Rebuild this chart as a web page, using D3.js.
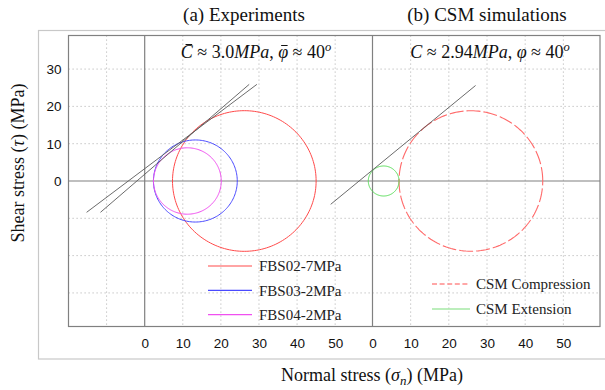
<!DOCTYPE html>
<html>
<head>
<meta charset="utf-8">
<script src="https://cdn.jsdelivr.net/npm/d3@7"></script>
<style>
  html, body { margin: 0; padding: 0; background: #fff; }
  svg { display: block; }
  .serif { font-family: "Liberation Serif", "DejaVu Serif", serif; }
  .tick text { font-family: "Liberation Sans", Arial, sans-serif; font-size: 13.5px; fill: #111; }
</style>
</head>
<body>
<svg id="chart" width="605" height="390"></svg>
<script>
// ---- Mohr circle data (MPa) ----
// Laboratory tests: minor / major principal stresses
const expNames   = ["FBS02-7MPa", "FBS03-2MPa", "FBS04-2MPa"];
const expSigma3  = [7.3, 2.3, 2.3];
const expSigma1  = [45.0, 24.3, 20.1];

// Laboratory failure envelopes: cohesion (MPa), friction angle (deg), drawn tau span
const envCohesion = [3.3, 1.8];
const envFriction = [37.5, 41.3];
const envTauSpan  = [-8.4, 25.9];

// CSM simulations
const csmNames  = ["CSM Compression", "CSM Extension"];
const csmSigma3 = [6.95, -1.1];
const csmSigma1 = [44.6, 6.95];
const csmCohesion = 2.94;
const csmFriction = 40;
const csmTauSpan  = [-6.25, 25.6];

// Axis ticks
const xTickValues = [0, 10, 20, 30, 40, 50];
const yTickValues = [0, 10, 20, 30];
const xGridLeft  = [-10, 10, 20, 30, 40, 50];
const xGridRight = [10, 20, 30, 40, 50];
const yGrid      = [-30, -20, -10, 10, 20, 30];

// ---- styling ----
const expColors = ["#ff4a4a", "#4a4aff", "#f050f0"];
const csmColors = ["#ff6a6a", "#55dd55"];
const envColor  = "#5a5a5a";
const frameColor = "#808080";
const gridColor = "#b8b8b8";

const svg = d3.select("#chart");

// ---- scales: two panels share one y axis ----
const xL = d3.scaleLinear().domain([-20, 59.8]).range([68.5, 372.5]);
const xR = d3.scaleLinear().domain([0, 59.6]).range([372.5, 600]);
const y  = d3.scaleLinear().domain([-39, 39]).range([326.5, 35.5]);
const plotLeft = 68.5, plotRight = 600, plotTop = 35.5, plotBottom = 326.5;

// outer light frame
svg.append("rect")
  .attr("x", 38.5).attr("y", 30.5).attr("width", 580).attr("height", 328.5)
  .attr("fill", "none").attr("stroke", "#c8c8c8").attr("stroke-width", 1.2);

// ---- grid ----
const grid = svg.append("g")
  .attr("stroke", gridColor).attr("stroke-width", 1).attr("stroke-dasharray", "1.2,2.8");
xGridLeft.forEach(v => grid.append("line")
  .attr("x1", xL(v)).attr("x2", xL(v)).attr("y1", plotTop).attr("y2", plotBottom));
xGridRight.forEach(v => grid.append("line")
  .attr("x1", xR(v)).attr("x2", xR(v)).attr("y1", plotTop).attr("y2", plotBottom));
yGrid.forEach(v => grid.append("line")
  .attr("x1", plotLeft).attr("x2", plotRight).attr("y1", y(v)).attr("y2", y(v)));

// ---- zero lines and panel divider ----
const frame = svg.append("g").attr("stroke", frameColor).attr("stroke-width", 1.2);
frame.append("line").attr("x1", plotLeft).attr("x2", plotRight).attr("y1", y(0)).attr("y2", y(0));
frame.append("line").attr("x1", xL(0)).attr("x2", xL(0)).attr("y1", plotTop).attr("y2", plotBottom);
frame.append("line").attr("x1", xR(0)).attr("x2", xR(0)).attr("y1", plotTop).attr("y2", plotBottom);
frame.append("rect")
  .attr("x", plotLeft).attr("y", plotTop)
  .attr("width", plotRight - plotLeft).attr("height", plotBottom - plotTop)
  .attr("fill", "none");

// ---- Mohr circle path through the scales ----
const angles = d3.range(0, 361, 2).map(a => a * Math.PI / 180);
function mohrPath(xs, s3, s1) {
  const c = (s1 + s3) / 2, r = (s1 - s3) / 2;
  return d3.line()
    .x(a => xs(c + r * Math.cos(a)))
    .y(a => y(r * Math.sin(a)))(angles);
}
function envelopePath(xs, coh, phiDeg, tauSpan) {
  const t = Math.tan(phiDeg * Math.PI / 180);
  return d3.line()
    .x(tau => xs((tau - coh) / t))
    .y(tau => y(tau))(tauSpan);
}

// left panel: experiments
const left = svg.append("g").attr("fill", "none");
expNames.forEach((n, i) => left.append("path")
  .attr("d", mohrPath(xL, expSigma3[i], expSigma1[i]))
  .attr("stroke", expColors[i]).attr("stroke-width", 1));
envCohesion.forEach((c, i) => left.append("path")
  .attr("d", envelopePath(xL, c, envFriction[i], envTauSpan))
  .attr("stroke", envColor).attr("stroke-width", 0.9));

// right panel: CSM
const right = svg.append("g").attr("fill", "none");
right.append("path")
  .attr("d", mohrPath(xR, csmSigma3[0], csmSigma1[0]))
  .attr("stroke", csmColors[0]).attr("stroke-width", 1.1).attr("stroke-dasharray", "14,3");
right.append("path")
  .attr("d", mohrPath(xR, csmSigma3[1], csmSigma1[1]))
  .attr("stroke", csmColors[1]).attr("stroke-width", 1);
right.append("path")
  .attr("d", envelopePath(xR, csmCohesion, csmFriction, csmTauSpan))
  .attr("stroke", envColor).attr("stroke-width", 0.9);

// ---- axes ----
const axB1 = svg.append("g").attr("transform", `translate(0,${plotBottom})`)
  .call(d3.axisBottom(xL).tickValues(xTickValues).tickSize(0).tickPadding(12));
const axB2 = svg.append("g").attr("transform", `translate(0,${plotBottom})`)
  .call(d3.axisBottom(xR).tickValues(xTickValues).tickSize(0).tickPadding(12));
const axL = svg.append("g").attr("transform", `translate(${plotLeft},0)`)
  .call(d3.axisLeft(y).tickValues(yTickValues).tickSize(0).tickPadding(7));
[axB1, axB2, axL].forEach(g => g.select(".domain").remove());

// ---- legends ----
const legL = svg.append("g").attr("class", "serif");
expNames.forEach((n, i) => {
  const yy = 266 + i * 24.3;
  legL.append("line").attr("x1", 208).attr("x2", 252).attr("y1", yy).attr("y2", yy)
    .attr("stroke", expColors[i]).attr("stroke-width", 1.2);
  legL.append("text").attr("x", 259).attr("y", yy).attr("dy", "0.35em")
    .attr("font-size", 15).attr("fill", "#222").text(n);
});
const legR = svg.append("g").attr("class", "serif");
csmNames.forEach((n, i) => {
  const yy = 284 + i * 25;
  const ln = legR.append("line").attr("x1", 432).attr("x2", 470).attr("y1", yy).attr("y2", yy)
    .attr("stroke", i === 0 ? "#ff8a8a" : "#a6e8a6").attr("stroke-width", 1.4);
  if (i === 0) ln.attr("stroke-dasharray", "5,2.6");
  legR.append("text").attr("x", 476).attr("y", yy).attr("dy", "0.35em")
    .attr("font-size", 15).attr("fill", "#222").text(n);
});

// ---- titles ----
svg.append("text").attr("class", "serif").attr("x", 244).attr("y", 21)
  .attr("text-anchor", "middle").attr("font-size", 19).attr("fill", "#111")
  .text("(a) Experiments");
svg.append("text").attr("class", "serif").attr("x", 487).attr("y", 21)
  .attr("text-anchor", "middle").attr("font-size", 19).attr("fill", "#111")
  .text("(b) CSM simulations");

// ---- strength parameter annotations (bar = mean value) ----
function paramLabel(x, parts) {
  const t = svg.append("text").attr("class", "serif").attr("x", x).attr("y", 58)
    .attr("text-anchor", "middle").attr("font-size", 18).attr("fill", "#111");
  const barred = [];
  let idx = 0;
  parts.forEach(p => {
    const s = t.append("tspan").text(p.t);
    if (p.i) s.attr("font-style", "italic");
    if (p.sup) s.attr("font-size", 12.5).attr("dy", -7);
    if (p.bar) barred.push({ index: idx, bar: p.bar });
    idx += p.t.length;
  });
  barred.forEach(b => {
    const ex = t.node().getExtentOfChar(b.index);
    const x0 = ex.x + ex.width * b.bar[0], x1 = ex.x + ex.width * b.bar[1];
    svg.append("line").attr("x1", x0).attr("x2", x1)
      .attr("y1", b.bar[2]).attr("y2", b.bar[2])
      .attr("stroke", "#111").attr("stroke-width", 1);
  });
}
paramLabel(256, [
  { t: "C", i: true, bar: [0.4, 0.95, 44.5] }, { t: " \u2248 3.0" }, { t: "MPa", i: true }, { t: ", " },
  { t: "\u03C6", i: true, bar: [0.3, 0.95, 45.5] }, { t: " \u2248 40" }, { t: "o", i: true, sup: true }
]);
paramLabel(490, [
  { t: "C", i: true }, { t: " \u2248 2.94" }, { t: "MPa", i: true }, { t: ", " },
  { t: "\u03C6", i: true }, { t: " \u2248 40" }, { t: "o", i: true, sup: true }
]);

// ---- axis titles ----
const xt = svg.append("text").attr("class", "serif").attr("x", 372).attr("y", 381)
  .attr("text-anchor", "middle").attr("font-size", 18).attr("fill", "#111");
xt.append("tspan").text("Normal stress (");
xt.append("tspan").attr("font-style", "italic").text("\u03C3");
xt.append("tspan").attr("font-style", "italic").attr("font-size", 13).attr("dy", 4).text("n");
xt.append("tspan").attr("dy", -4).text(") (MPa)");

const yt = svg.append("text").attr("class", "serif")
  .attr("transform", "translate(24,163) rotate(-90)")
  .attr("text-anchor", "middle").attr("font-size", 18).attr("fill", "#111");
yt.append("tspan").text("Shear stress (");
yt.append("tspan").attr("font-style", "italic").text("\u03C4");
yt.append("tspan").text(") (MPa)");
</script>
</body>
</html>
